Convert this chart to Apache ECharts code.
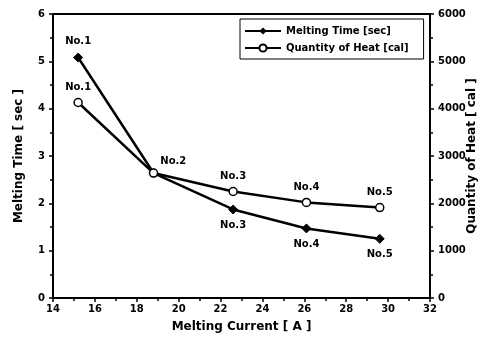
<!DOCTYPE html>
<html><head><meta charset="utf-8">
<script src="https://cdn.jsdelivr.net/npm/echarts@6/dist/echarts.min.js"></script>
<style>html,body{margin:0;padding:0;background:#fff}#c{width:493px;height:337px}</style>
</head><body><div id="c"></div>
<script>
const current = [15.2, 18.8, 22.6, 26.1, 29.6];
const meltingTime = [5.08, 2.64, 1.87, 1.47, 1.25];
const heat = [4130, 2640, 2250, 2020, 1910];
const pointNames = ['No.1', 'No.2', 'No.3', 'No.4', 'No.5'];
const xTicks = [14, 16, 18, 20, 22, 24, 26, 28, 30, 32];

const FONT = '"DejaVu Sans", Arial, sans-serif';
const chart = echarts.init(document.getElementById('c'), null, {renderer: 'canvas'});
const txt = {fontFamily: FONT, fontWeight: 'bold', color: '#000'};

const timeData = current.map((x, i) => ({
  value: [x, meltingTime[i]],
  label: i === 1 ? {show: false} : {show: true, position: i === 0 ? 'top' : 'bottom', distance: 6}
}));
const heatData = current.map((x, i) => ({
  value: [x, heat[i]],
  label: i === 1 ? {show: true, position: 'right', distance: 2, offset: [0, -12]} : {show: true, position: 'top', distance: 5}
}));

const axisCommon = {
  axisLine: {show: true, lineStyle: {color: '#000', width: 2}},
  axisTick: {show: true, inside: false, length: 4, lineStyle: {color: '#000', width: 1.5}},
  minorTick: {show: true, splitNumber: 2, length: 3, lineStyle: {color: '#000', width: 1.5}},
  splitLine: {show: false},
  axisLabel: Object.assign({fontSize: 10}, txt),
  nameTextStyle: Object.assign({fontSize: 12}, txt)
};

chart.setOption({
  animation: false,
  backgroundColor: '#fff',
  grid: {left: 53, right: 63, top: 14, bottom: 39, show: true, borderColor: '#000', borderWidth: 2,
    containLabel: false, outerBoundsMode: 'none'},
  legend: {
    orient: 'vertical', left: 240, top: 19, padding: [7, 15, 6, 4], itemGap: 7,
    itemWidth: 36, itemHeight: 9, borderColor: '#000', borderWidth: 1,
    textStyle: Object.assign({fontSize: 10}, txt),
    data: ['Melting Time [sec]', 'Quantity of Heat [cal]']
  },
  xAxis: Object.assign({}, axisCommon, {
    type: 'value', min: 14, max: 32, interval: 2,
    name: 'Melting Current [ A ]', nameLocation: 'middle', nameGap: 23,
    axisLabel: Object.assign({fontSize: 10, margin: 6,
      formatter: v => xTicks.includes(v) ? String(v) : ''}, txt)
  }),
  yAxis: [
    Object.assign({}, axisCommon, {
      type: 'value', min: 0, max: 6, interval: 1, position: 'left',
      name: 'Melting Time [ sec ]', nameLocation: 'middle', nameGap: 28
    }),
    Object.assign({}, axisCommon, {
      type: 'value', min: 0, max: 6000, interval: 1000, position: 'right',
      name: 'Quantity of Heat [ cal ]', nameLocation: 'middle', nameGap: 36, nameRotate: 90,
      nameMoveOverlap: false,
      axisLabel: Object.assign({fontSize: 10, formatter: v => String(v)}, txt)
    })
  ],
  series: [
    {
      name: 'Melting Time [sec]', type: 'line', yAxisIndex: 0,
      symbol: 'diamond', symbolSize: 9, showSymbol: true,
      lineStyle: {color: '#000', width: 2.5},
      itemStyle: {color: '#000', borderColor: '#000'},
      label: Object.assign({fontSize: 10, formatter: p => pointNames[p.dataIndex]}, txt),
      data: timeData
    },
    {
      name: 'Quantity of Heat [cal]', type: 'line', yAxisIndex: 1,
      symbol: 'circle', symbolSize: 8, showSymbol: true,
      lineStyle: {color: '#000', width: 2.5},
      itemStyle: {color: '#fff', borderColor: '#000', borderWidth: 1.5},
      label: Object.assign({fontSize: 10, formatter: p => pointNames[p.dataIndex]}, txt),
      data: heatData
    }
  ]
});
</script></body></html>
